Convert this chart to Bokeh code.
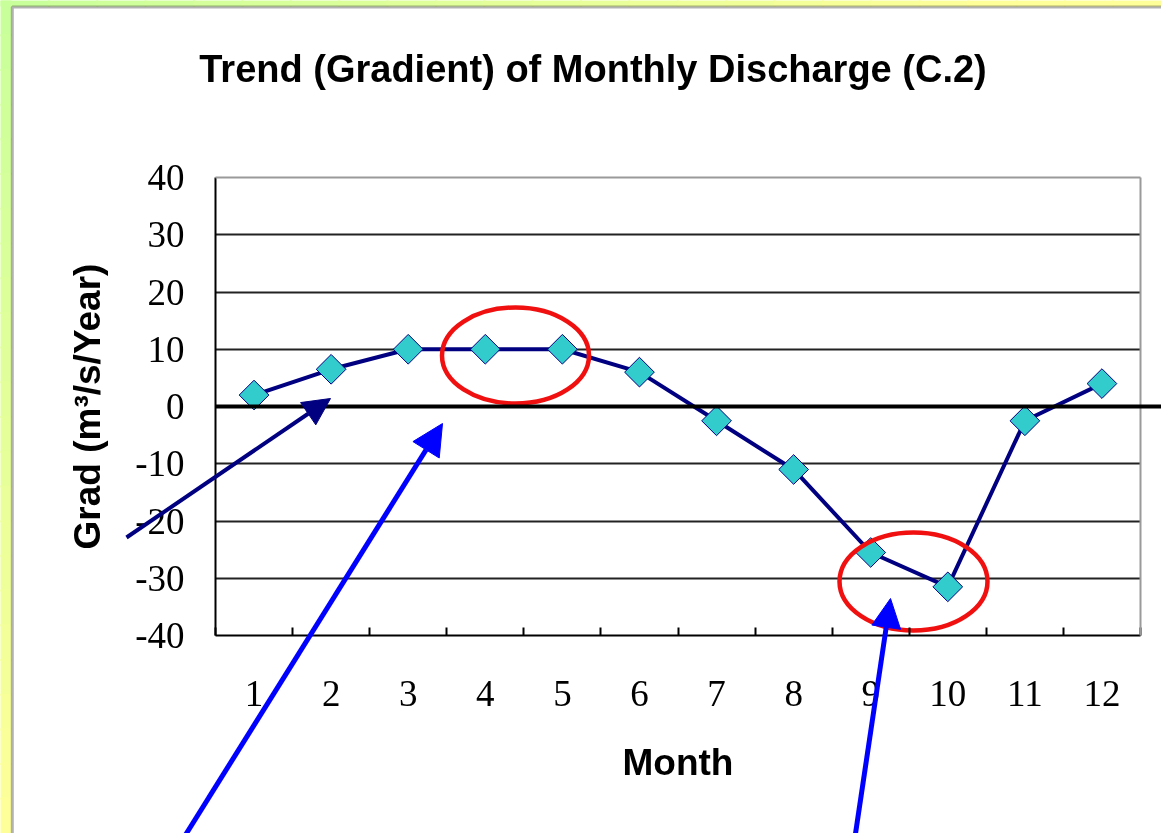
import math
from bokeh.plotting import figure
from bokeh.models import (Range1d, FixedTicker, Label, Arrow, NormalHead, BoxAnnotation)
from bokeh.embed import file_html
from bokeh.resources import INLINE

# ---------------- data ----------------
months = list(range(1, 13))
month_labels = [str(m) for m in months]
grad = [2.0, 6.5, 10.0, 10.0, 10.0, 6.0, -2.5, -11.0, -25.5, -31.5, -2.5, 4.0]
y_ticks = [-40, -30, -20, -10, 0, 10, 20, 30, 40]
y_tick_labels = [str(t) for t in y_ticks]
grid_ticks = [-30, -20, -10, 10, 20, 30]

title_text = "Trend (Gradient) of Monthly Discharge (C.2)"
x_title = "Month"
y_title = "Grad (m\u00b3/s/Year)"

# ---------------- geometry ----------------
W, H = 1161, 833
FL, FR, FT, FB = 215, 1140, 177, 635      # plot-area box in canvas pixels
X0, X1 = 0.5, 12.5
Y0, Y1 = -40, 40


def px(xp):
    return X0 + (xp - FL) * (X1 - X0) / (FR - FL)


def py(yp):
    return Y1 - (yp - FT) * (Y1 - Y0) / (FB - FT)


p = figure(width=W, height=H, x_range=Range1d(px(0), px(W)), y_range=Range1d(py(H), py(0)),
           output_backend="svg", toolbar_location=None,
           min_border_left=0, min_border_right=0, min_border_top=0, min_border_bottom=0,
           background_fill_color="white", border_fill_color="white",
           outline_line_color=None)
p.styles = {"position": "fixed", "left": "0px", "top": "0px"}

# ---------------- background gradient strips ----------------
c_green = (0xC8, 0xFF, 0x9A)
c_yellow = (0xFF, 0xFF, 0x99)


def mix(t):
    t = max(0.0, min(1.0, t))
    r, g, b = [int(round(a + (bb - a) * t)) for a, bb in zip(c_green, c_yellow)]
    return "#%02x%02x%02x" % (r, g, b)


n = 24
for i in range(n):
    y_top = H * i / n
    y_bot = H * (i + 1) / n
    p.add_layout(BoxAnnotation(left=px(-2), right=px(11), top=py(y_top - 1), bottom=py(y_bot + 1),
                               fill_color=mix((y_top + y_bot) / 2 / 820), fill_alpha=1,
                               line_color=None, level="underlay"))
for i in range(n):
    x_l = W * i / n
    x_r = W * (i + 1) / n
    p.add_layout(BoxAnnotation(left=px(x_l - 1), right=px(x_r + 1), top=py(-2), bottom=py(6),
                               fill_color=mix((x_l + x_r) / 2 / 1000), fill_alpha=1,
                               line_color=None, level="underlay"))

# panel border
p.add_layout(BoxAnnotation(left=px(11.8), right=px(W + 60), top=py(6.5), bottom=py(H + 60),
                           fill_alpha=0, fill_color=None, line_color="black",
                           line_width=3, level="underlay"))

# ---------------- grid ----------------
p.xgrid.visible = False
yg = p.ygrid[0]
yg.ticker = FixedTicker(ticks=grid_ticks)
yg.grid_line_color = "#222222"
yg.grid_line_width = 2
if "cross_bounds" in yg.properties():
    yg.cross_bounds = (X0, X1)
else:
    yg.visible = False
    p.segment(x0=[X0] * len(grid_ticks), x1=[X1] * len(grid_ticks), y0=grid_ticks,
              y1=grid_ticks, line_color="#222222", line_width=2)

# top and right plot-area border (grey)
p.add_layout(Arrow(start=None, end=None, x_start=X0, y_start=Y1, x_end=X1, y_end=Y1,
                   line_color="#9a9a9a", line_width=2))
p.add_layout(Arrow(start=None, end=None, x_start=X1, y_start=Y0, x_end=X1, y_end=Y1,
                   line_color="#9a9a9a", line_width=2))

# zero line extending to the right edge
p.add_layout(Arrow(start=None, end=None, x_start=X0, y_start=0, x_end=px(W + 10), y_end=0,
                   line_color="black", line_width=4))

# ---------------- axes ----------------
boundaries = [m - 0.5 for m in months] + [months[-1] + 0.5]
xa = p.xaxis[0]
xa.fixed_location = Y0
xa.bounds = (X0, X1)
xa.ticker = FixedTicker(ticks=months, minor_ticks=boundaries)
xa.major_label_overrides = {m: l for m, l in zip(months, month_labels)}
xa.major_tick_line_color = None
xa.minor_tick_in = 8
xa.minor_tick_out = 0
xa.minor_tick_line_color = "black"
xa.minor_tick_line_width = 2
xa.axis_line_color = "black"
xa.axis_line_width = 2
xa.major_label_text_font = "Liberation Serif"
xa.major_label_text_font_size = "37px"
xa.major_label_text_color = "black"
xa.major_label_standoff = 39
xa.axis_label = x_title
xa.axis_label_text_font = "Liberation Sans"
xa.axis_label_text_font_style = "bold"
xa.axis_label_text_font_size = "37px"
xa.axis_label_text_color = "black"
xa.axis_label_standoff = 33

ya = p.yaxis[0]
ya.fixed_location = X0
ya.bounds = (Y0, Y1)
ya.ticker = FixedTicker(ticks=y_ticks)
ya.major_label_overrides = {t: l for t, l in zip(y_ticks, y_tick_labels)}
ya.major_tick_in = 0
ya.major_tick_out = 0
ya.minor_tick_line_color = None
ya.axis_line_color = "black"
ya.axis_line_width = 2
ya.major_label_text_font = "Liberation Serif"
ya.major_label_text_font_size = "37px"
ya.major_label_text_color = "black"
ya.major_label_standoff = 31
ya.axis_label = y_title
ya.axis_label_text_font = "Liberation Sans"
ya.axis_label_text_font_style = "bold"
ya.axis_label_text_font_size = "37px"
ya.axis_label_text_color = "black"
ya.axis_label_standoff = 24

# ---------------- data series ----------------
p.line(months, grad, line_color="#000080", line_width=4)
p.scatter(months, grad, marker="square", angle=math.pi / 4, size=21,
          fill_color="#33CCCC", line_color="#000080", line_width=1)

# ---------------- highlight ellipses ----------------
ell_x = [px(515), px(913)]
ell_y = [py(355), py(581)]
ell_w = [147, 148]
ell_h = [96, 98]
p.ellipse(x=ell_x, y=ell_y, width=ell_w, height=ell_h, width_units="screen",
          height_units="screen", fill_color=None, line_color="#f01010", line_width=4.5)

# ---------------- arrows ----------------
p.add_layout(Arrow(end=NormalHead(size=27, fill_color="#000080", line_color="#000080"),
                   x_start=px(126), y_start=py(537), x_end=px(330), y_end=py(398),
                   line_color="#000080", line_width=4))
p.add_layout(Arrow(end=NormalHead(size=31, fill_color="#0000ff", line_color="#0000ff"),
                   x_start=px(169), y_start=py(860), x_end=px(442), y_end=py(423),
                   line_color="#0000ff", line_width=5))
p.add_layout(Arrow(end=NormalHead(size=29, fill_color="#0000ff", line_color="#0000ff"),
                   x_start=px(851), y_start=py(860), x_end=px(890), y_end=py(598),
                   line_color="#0000ff", line_width=5))

# ---------------- title ----------------
p.add_layout(Label(x=px(592.5), y=py(68), text=title_text, text_align="center",
                   text_baseline="alphabetic", text_font="Liberation Sans",
                   text_font_style="bold", text_font_size="38px", text_color="black"))

open("out.html", "w").write(file_html(p, INLINE))
